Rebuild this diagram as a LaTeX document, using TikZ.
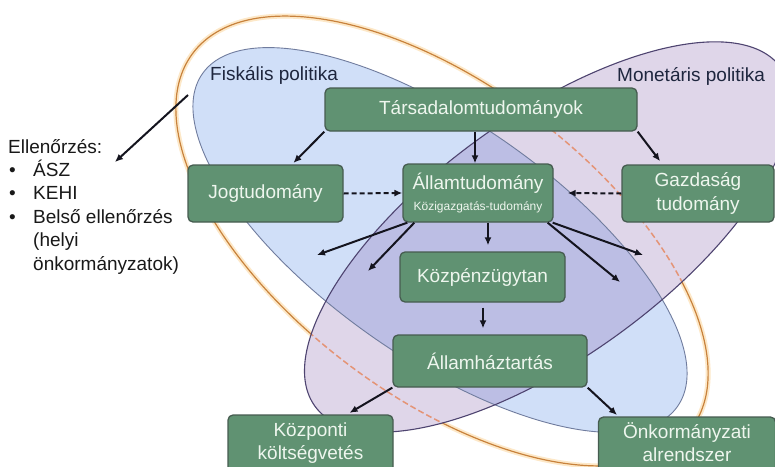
\documentclass[tikz,border=0pt]{standalone}
\usepackage{fontspec}
\setmainfont{Liberation Sans}
\usetikzlibrary{arrows.meta}
\definecolor{boxgreen}{RGB}{96,146,114}
\definecolor{boxline}{RGB}{70,92,80}
\definecolor{boxtext}{RGB}{238,246,238}
\definecolor{bluefill}{RGB}{208,223,248}
\definecolor{blueline}{RGB}{112,124,158}
\definecolor{purpfill}{RGB}{130,95,170}
\definecolor{purpline}{RGB}{78,68,112}
\definecolor{orangeline}{RGB}{200,130,60}
\definecolor{orangeglow}{RGB}{253,232,200}
\definecolor{orangedash}{RGB}{228,148,118}
\definecolor{arrowcol}{RGB}{20,20,30}
\definecolor{labeltext}{RGB}{30,38,62}
\definecolor{lefttext}{RGB}{25,25,25}
\begin{document}
\begin{tikzpicture}[x=1pt,y=-1pt,
  box/.style={draw=boxline, line width=1.3pt, fill=boxgreen, rounded corners=5pt,
    text=boxtext, inner sep=0pt, align=center, font=\fontsize{19}{23}\selectfont},
  arr/.style={draw=arrowcol, line width=2pt, -{Latex[length=8pt,width=7pt]}},
  darr/.style={arr, dash pattern=on 5pt off 3pt},
  lbl/.style={text=labeltext, inner sep=0pt, font=\fontsize{19}{23}\selectfont, anchor=base west},
  ltxt/.style={text=lefttext, inner sep=0pt, font=\fontsize{19}{23}\selectfont, anchor=base west},
  orangeell/.style={rotate around={-37:(442,241)}},
  blueell/.style={rotate around={-35:(440,240)}},
  purpell/.style={rotate around={36:(548,237)}}
]
\useasboundingbox (0,0) rectangle (775,466);
\clip (0,0) rectangle (775,466);
\fill[white] (0,0) rectangle (775,466);

% orange ring with glow
\draw[orangeell, orangeglow, line width=5pt] (442,241) ellipse [x radius=312pt, y radius=155pt];
\draw[orangeell, orangeline, line width=1.2pt] (442,241) ellipse [x radius=312pt, y radius=155pt];

% blue ellipse (Fiskalis)
\fill[blueell, bluefill] (440,240) ellipse [x radius=290pt, y radius=118pt];

% erase orange ring inside purple ellipse
\begin{scope}
  \clip[purpell] (548,237) ellipse [x radius=288pt, y radius=120pt];
  \draw[orangeell, white, line width=9pt] (442,241) ellipse [x radius=312pt, y radius=155pt];
\end{scope}

% purple ellipse (Monetaris)
\fill[purpell, purpfill, fill opacity=0.25] (548,237) ellipse [x radius=288pt, y radius=120pt];

% dashed orange ring inside purple
\begin{scope}
  \clip[purpell] (548,237) ellipse [x radius=288pt, y radius=120pt];
  \draw[orangeell, orangedash, line width=1.5pt, dash pattern=on 6pt off 3pt] (442,241) ellipse [x radius=312pt, y radius=155pt];
\end{scope}

% outlines
\draw[blueell, blueline, line width=0.9pt] (440,240) ellipse [x radius=290pt, y radius=118pt];
\draw[purpell, purpline, line width=1.1pt] (548,237) ellipse [x radius=288pt, y radius=120pt];

% region labels
\node[lbl] (fisk) at (210,80) {Fiskális politika};
\node[lbl] (monet) at (617,81) {Monetáris politika};

% left text
\node[ltxt] (ell) at (8,153) {Ellenőrzés:};
\node[ltxt] (b1) at (9,176) {•};
\node[ltxt] (t1) at (33,176) {ÁSZ};
\node[ltxt] (b2) at (9,199.5) {•};
\node[ltxt] (t2) at (33,199.5) {KEHI};
\node[ltxt] (b3) at (9,223) {•};
\node[ltxt] (t3) at (33,223) {Belső ellenőrzés};
\node[ltxt] (t4) at (33,246.5) {(helyi};
\node[ltxt] (t5) at (33,270) {önkormányzatok)};

% boxes
\node[box, minimum width=312pt, minimum height=43pt] (tars) at (481,109.5) {Társadalomtudományok};
\node[box, minimum width=155pt, minimum height=57pt] (jog) at (265.5,193.5) {Jogtudomány};
\node[box, minimum width=150pt, minimum height=58pt] (allam) at (478,193)
  {Államtudomány\\[-2pt]{\fontsize{12}{14}\selectfont Közigazgatás-tudomány}};
\node[box, minimum width=152pt, minimum height=57pt, font=\fontsize{19}{24}\selectfont] (gazd) at (698,193.5) {Gazdaság\\tudomány};
\node[box, minimum width=165pt, minimum height=50pt] (kozp) at (482.5,277) {Közpénzügytan};
\node[box, minimum width=194pt, minimum height=52pt] (ahaz) at (490,361) {Államháztartás};
\node[box, minimum width=165pt, minimum height=58pt] (kozpk) at (310.5,444) {Központi\\költségvetés\rule[-6pt]{0pt}{6pt}};
\node[box, minimum width=177pt, minimum height=58pt] (onk) at (687,446) {Önkormányzati\\alrendszer\rule[-8pt]{0pt}{8pt}};

% free ends
\coordinate (fiscpt) at (188,95);
\coordinate (ellpt) at (115,162);
\coordinate (r1) at (317,255);
\coordinate (r2) at (368,271);
\coordinate (r3) at (643,255);
\coordinate (r4) at (620,282);

% connectors
\draw[arr] (fiscpt) -- (ellpt);
\draw[arr, shorten >=2pt] (tars.south west) -- ([xshift=26.5pt]jog.north);
\draw[arr] ([xshift=-6pt]tars.south) -- ([xshift=-3pt]allam.north);
\draw[arr, shorten >=4pt] (tars.south east) -- ([xshift=-35.5pt]gazd.north);
\draw[darr] (jog.east) -- (allam.west);
\draw[darr] (gazd.west) -- ([xshift=14pt]allam.east);
\draw[arr, shorten >=6pt] ([xshift=10pt]allam.south) -- ([xshift=5.5pt]kozp.north);
\draw[arr, shorten <=5pt, shorten >=6pt] ([xshift=0.5pt]kozp.south) -- ([xshift=-7pt]ahaz.north);
\draw[arr, shorten >=3pt] (ahaz.south west) -- ([xshift=36.5pt]kozpk.north);
\draw[arr, shorten >=2pt] (ahaz.south east) -- ([xshift=-68.5pt]onk.north);
\draw[arr] ([xshift=5pt]allam.south west) -- (r1);
\draw[arr] ([xshift=12pt]allam.south west) -- (r2);
\draw[arr] ([xshift=-1pt]allam.south east) -- (r3);
\draw[arr] ([xshift=-6pt]allam.south east) -- (r4);
\end{tikzpicture}
\end{document}
